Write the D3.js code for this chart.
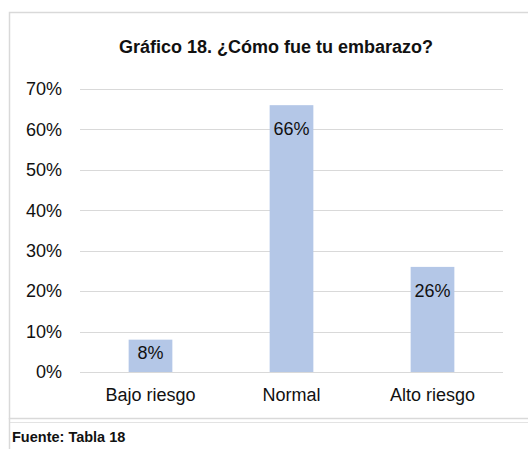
<!DOCTYPE html>
<html>
<head>
<meta charset="utf-8">
<script src="https://cdn.jsdelivr.net/npm/d3@7"></script>
<style>
  body { margin: 0; background: #fff; }
  text { font-family: "Liberation Sans", Arial, sans-serif; }
</style>
</head>
<body>
<div id="chart"></div>
<script>
const categories = ["Bajo riesgo", "Normal", "Alto riesgo"];
const values = [0.08, 0.66, 0.26];
const tickValues = [0, 0.1, 0.2, 0.3, 0.4, 0.5, 0.6, 0.7];
const title = "Gráfico 18. ¿Cómo fue tu embarazo?";
const source = "Fuente: Tabla 18";

const width = 528, height = 449;
const margin = { top: 89, right: 25, bottom: 77, left: 80 };

const svg = d3.select("#chart").append("svg")
    .attr("width", width)
    .attr("height", height);

// frame of the chart area
svg.append("rect")
    .attr("x", 9.5).attr("y", 12.5)
    .attr("width", 530).attr("height", 406)
    .attr("fill", "none")
    .attr("stroke", "#d9d9d9")
    .attr("stroke-width", 1.5);
svg.append("line")
    .attr("x1", 9.5).attr("x2", 530)
    .attr("y1", 422.5).attr("y2", 422.5)
    .attr("stroke", "#e3e3e3");
svg.append("line")
    .attr("x1", 9.5).attr("x2", 9.5)
    .attr("y1", 418).attr("y2", 449)
    .attr("stroke", "#d9d9d9")
    .attr("stroke-width", 1.5);

const x = d3.scaleBand()
    .domain(categories)
    .range([margin.left, width - margin.right])
    .paddingInner(0.69)
    .paddingOuter(0.345);

const y = d3.scaleLinear()
    .domain([0, 0.7])
    .range([height - margin.bottom, margin.top]);

// gridlines
svg.append("g")
    .selectAll("line")
    .data(tickValues)
    .enter()
    .append("line")
    .attr("x1", margin.left)
    .attr("x2", width - margin.right)
    .attr("y1", d => Math.round(y(d)) + 0.5)
    .attr("y2", d => Math.round(y(d)) + 0.5)
    .attr("stroke", "#d9d9d9")
    .attr("stroke-width", 1.2);

// y axis labels
const yAxis = d3.axisLeft(y)
    .tickValues(tickValues)
    .tickFormat(d3.format(".0%"))
    .tickSize(0)
    .tickPadding(18);
svg.append("g")
    .attr("transform", `translate(${margin.left},0)`)
    .call(yAxis)
    .call(g => g.select(".domain").remove())
    .selectAll("text")
    .attr("font-size", 18)
    .attr("fill", "#111")
    .style("font-family", "'Liberation Sans', Arial, sans-serif");

// bars
svg.append("g")
    .selectAll("rect")
    .data(values)
    .enter()
    .append("rect")
    .attr("x", (d, i) => x(categories[i]))
    .attr("y", d => y(d))
    .attr("width", x.bandwidth())
    .attr("height", d => y(0) - y(d))
    .attr("fill", "#b4c7e7");

// value labels
svg.append("g")
    .selectAll("text")
    .data(values)
    .enter()
    .append("text")
    .attr("x", (d, i) => x(categories[i]) + x.bandwidth() / 2)
    .attr("y", d => Math.min(y(d) + 24, (y(d) + y(0)) / 2 - 3))
    .attr("dy", "0.35em")
    .attr("text-anchor", "middle")
    .attr("font-size", 18)
    .attr("fill", "#111")
    .text(d => d3.format(".0%")(d));

// x axis labels
const xAxis = d3.axisBottom(x).tickSize(0).tickPadding(16);
svg.append("g")
    .attr("transform", `translate(0,${y(0)})`)
    .call(xAxis)
    .call(g => g.select(".domain").remove())
    .selectAll("text")
    .attr("font-size", 18)
    .attr("fill", "#111")
    .style("font-family", "'Liberation Sans', Arial, sans-serif");

// title
svg.append("text")
    .attr("x", 276)
    .attr("y", 47)
    .attr("dy", "0.35em")
    .attr("text-anchor", "middle")
    .attr("font-size", 18)
    .attr("font-weight", "bold")
    .attr("fill", "#111")
    .text(title);

// source
svg.append("text")
    .attr("x", 12)
    .attr("y", 437)
    .attr("dy", "0.35em")
    .attr("font-size", 14.5)
    .attr("font-weight", "bold")
    .attr("fill", "#111")
    .text(source);
</script>
</body>
</html>
